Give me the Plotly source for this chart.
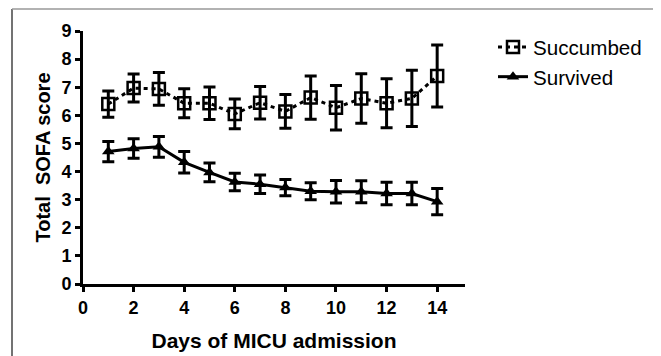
import plotly.graph_objects as go

days = list(range(1, 15))
succumbed_mean = [6.40, 6.97, 6.94, 6.43, 6.43, 6.05, 6.45, 6.14, 6.63, 6.27, 6.60, 6.43, 6.60, 7.40]
succumbed_err = [0.47, 0.50, 0.58, 0.52, 0.58, 0.53, 0.58, 0.60, 0.77, 0.79, 0.88, 0.87, 1.00, 1.10]
survived_mean = [4.71, 4.82, 4.88, 4.33, 3.97, 3.63, 3.55, 3.43, 3.30, 3.28, 3.28, 3.22, 3.22, 2.93]
survived_err = [0.36, 0.35, 0.37, 0.38, 0.33, 0.31, 0.33, 0.29, 0.30, 0.40, 0.39, 0.40, 0.40, 0.47]
x_ticks = [0, 2, 4, 6, 8, 10, 12, 14]
y_ticks = list(range(0, 10))

FONT = "Liberation Sans, Arial, sans-serif"
W, H = 653, 348  # page body has an 8px margin

fig = go.Figure()
fig.add_trace(go.Scatter(
    x=days, y=succumbed_mean, name="Succumbed", mode="lines+markers",
    line=dict(color="black", width=3, dash="4px,4px"),
    marker=dict(symbol="square-open", size=12, color="black", line=dict(width=2.5, color="black")),
    error_y=dict(type="data", array=succumbed_err, visible=True, color="black", thickness=3, width=6),
    cliponaxis=False,
))
fig.add_trace(go.Scatter(
    x=days, y=survived_mean, name="Survived", mode="lines+markers",
    line=dict(color="black", width=3),
    marker=dict(symbol="triangle-up", size=11, color="black"),
    error_y=dict(type="data", array=survived_err, visible=True, color="black", thickness=3, width=6),
    cliponaxis=False,
))

fig.update_layout(
    width=W, height=H,
    margin=dict(l=75, r=196, t=23, b=72, autoexpand=False),
    paper_bgcolor="white", plot_bgcolor="white",
    font=dict(family=FONT, color="black"),
    showlegend=True,
    legend=dict(
        xref="container", yref="container", x=485/W, y=1 - 19/H,
        xanchor="left", yanchor="top",
        font=dict(family=FONT, size=20.6, color="black"),
        tracegroupgap=0, itemwidth=30, bgcolor="rgba(0,0,0,0)",
    ),
    xaxis=dict(
        range=[0, 15.1], tickvals=x_ticks, ticks="outside", ticklen=5, tickwidth=3,
        tickcolor="black", showline=True, linewidth=3, linecolor="black",
        showgrid=False, zeroline=False, automargin=False,
        tickfont=dict(family=FONT, size=18, color="black", weight="bold"),
        title=dict(text="Days of MICU admission", standoff=17,
                   font=dict(family=FONT, size=21, color="black", weight="bold")),
    ),
    yaxis=dict(
        range=[0, 9], tickvals=y_ticks, ticks="outside", ticklen=5, tickwidth=3,
        tickcolor="black", showline=True, linewidth=3, linecolor="black",
        showgrid=False, zeroline=False, automargin=False,
        tickfont=dict(family=FONT, size=18, color="black", weight="bold"),
        title=dict(text="Total  SOFA score", standoff=6,
                   font=dict(family=FONT, size=20, color="black", weight="bold")),
    ),
    shapes=[
        dict(type="line", xref="paper", yref="paper", x0=-71/382, x1=-71/382, y0=-1.0, y1=1 + 22/253,
             line=dict(color="#444", width=1.5), layer="below"),
        dict(type="line", xref="paper", yref="paper", x0=-71/382, x1=572/382, y0=1 + 22/253, y1=1 + 22/253,
             line=dict(color="#999", width=1.5), layer="below"),
        dict(type="line", xref="paper", yref="paper", x0=572/382, x1=572/382, y0=-1.0, y1=1 + 22/253,
             line=dict(color="#333", width=2), layer="below"),
    ],
)

fig.write_html("out.html")
